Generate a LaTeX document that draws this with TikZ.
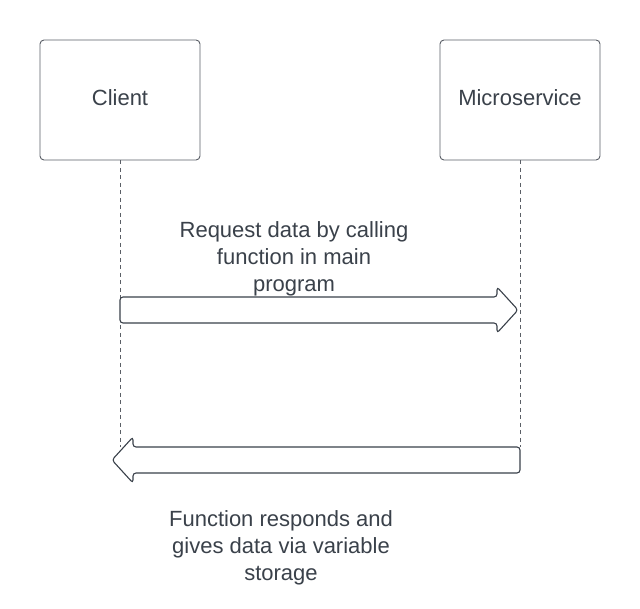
\documentclass[tikz,border=0pt]{standalone}
\usepackage{fontspec}
\setmainfont{Liberation Sans}
\definecolor{txt}{HTML}{3A414A}
\definecolor{edge}{HTML}{5A5F66}
\begin{document}
\begin{tikzpicture}[x=1pt,y=-1pt,
  actor/.style={draw=edge,line width=0.9pt,rounded corners=4pt,minimum width=160pt,minimum height=120pt,text=txt,inner sep=0pt},
  actortext/.style={font=\fontsize{22}{27}\selectfont,text=txt,inner sep=0pt},
  lifeline/.style={draw=edge,line width=0.7pt,dash pattern=on 4pt off 3.5pt},
  fatarrow/.style={draw=txt,line width=1.1pt,rounded corners=3pt,fill=white},
  label/.style={align=center,font=\fontsize{22}{27}\selectfont,text=txt,inner sep=0pt}]
\useasboundingbox (0,0) rectangle (640,609);
\fill[white] (0,0) rectangle (640,609);
\node[actor] (client) at (120,100) {};
\node[actor] (micro) at (520,100) {};
\node[actortext] (clientt) at (120,98) {Client};
\node[actortext] (microt) at (520,98) {Microservice};
\coordinate (cl) at (120,447);
\coordinate (ml) at (520,447);
\draw[lifeline] (client.south) -- (cl);
\draw[lifeline] (micro.south) -- (ml);
% request arrow
\draw[fatarrow] (120,297) -- (497,297) -- (497,287) -- (518,310) -- (497,333) -- (497,323) -- (120,323) -- cycle;
% response arrow
\draw[fatarrow] (520,447) -- (133,447) -- (133,437) -- (112,460) -- (133,483) -- (133,473) -- (520,473) -- cycle;
\node[label] (req) at (294,259) {Request data by calling\\function in main\\program};
\node[label] (resp) at (281,548) {Function responds and\\gives data via variable\\storage};
\end{tikzpicture}
\end{document}
